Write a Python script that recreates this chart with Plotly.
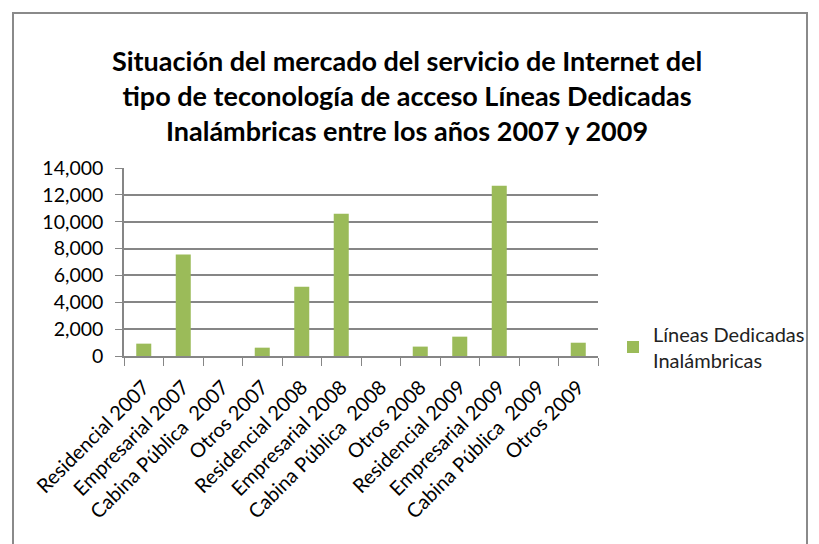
import plotly.graph_objects as go

categories = ["Residencial 2007", "Empresarial 2007", "Cabina Pública  2007", "Otros 2007",
              "Residencial 2008", "Empresarial 2008", "Cabina Pública  2008", "Otros 2008",
              "Residencial 2009", "Empresarial 2009", "Cabina Pública  2009", "Otros 2009"]
values = [920, 7550, 0, 620, 5160, 10600, 0, 700, 1440, 12680, 0, 990]
series_name = "Líneas Dedicadas<br>Inalámbricas"
title_text = ("Situación del mercado del servicio de Internet del<br>"
              "tipo de teconología de acceso Líneas Dedicadas<br>"
              "Inalámbricas entre los años 2007 y 2009")
y_ticks = [0, 2000, 4000, 6000, 8000, 10000, 12000, 14000]

W, H = 819, 544
L, R, T, B = 124, 221, 168, 188
pw, ph = W - L - R, H - T - B

FONT = "Lato"

fig = go.Figure()
fig.add_trace(go.Bar(x=categories, y=values, name=series_name,
                     marker=dict(color="#9BBB59", line=dict(width=0))))

def px_x(p):
    return (p - L) / pw

def px_y(p):
    return (H - B - p) / ph

fig.update_layout(
    width=W, height=H,
    margin=dict(l=L, r=R, t=T, b=B, autoexpand=False),
    paper_bgcolor="white", plot_bgcolor="white",
    bargap=0.62,
    showlegend=True,
    title=dict(text="<b>" + title_text + "</b>", x=0.497, xanchor="center",
               y=1 - 71 / H, yanchor="middle",
               font=dict(family=FONT, size=27, color="black")),
    legend=dict(x=px_x(613), y=px_y(347), xanchor="left", yanchor="middle",
                font=dict(family=FONT, size=20, color="#222"),
                bgcolor="rgba(0,0,0,0)", itemwidth=30),
    xaxis=dict(type="category", tickangle=-45, tickson="boundaries",
               ticks="outside", ticklen=8, tickcolor="#868686", tickwidth=1,
               showline=True, linecolor="#868686", linewidth=1.5,
               showgrid=False, ticklabelstandoff=10,
               tickfont=dict(family=FONT, size=20, color="black")),
    yaxis=dict(range=[0, 14000], tickvals=y_ticks, tickformat=",",
               ticks="outside", ticklen=7, tickcolor="#868686",
               showline=True, linecolor="#868686", linewidth=1.5,
               showgrid=True, gridcolor="#868686", gridwidth=1.5,
               zeroline=False, ticklabelstandoff=8,
               tickfont=dict(family=FONT, size=19.5, color="black")),
    shapes=[dict(type="rect", xref="paper", yref="paper",
                 x0=px_x(13), x1=px_x(807), y0=px_y(560), y1=px_y(13),
                 line=dict(color="#8a8a8a", width=2), layer="below")],
)

fig.write_html("out.html", config={"displayModeBar": False},
               post_script="document.body.style.margin='0';document.body.style.overflow='hidden';")
